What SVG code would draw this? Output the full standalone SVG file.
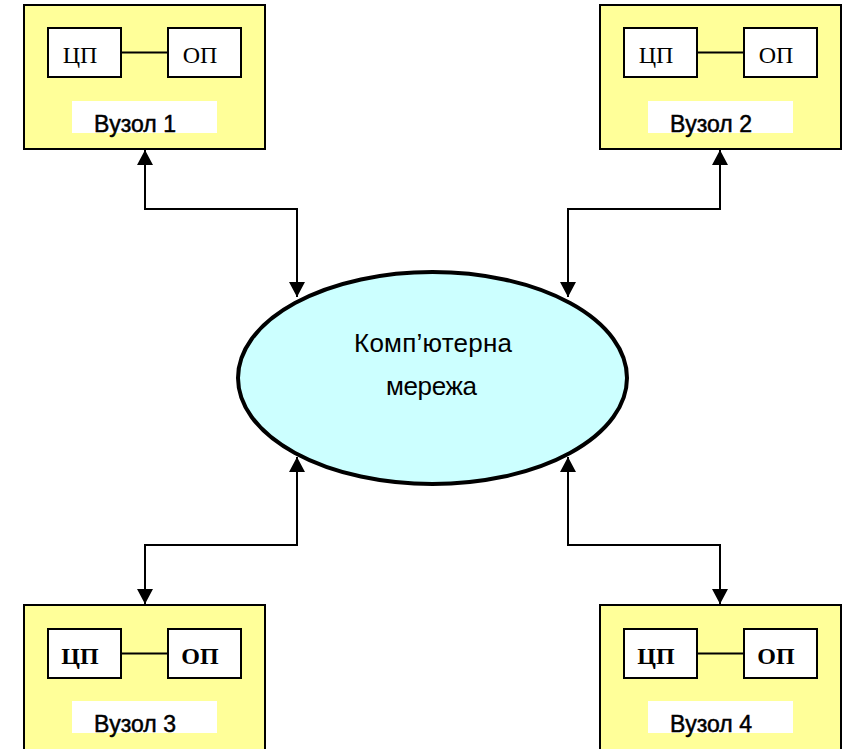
<svg xmlns="http://www.w3.org/2000/svg" width="845" height="749" viewBox="0 0 845 749">
  <style>
    .node { fill: #FFFF99; stroke: #000; stroke-width: 2; }
    .unit { fill: #FFFFFF; stroke: #000; stroke-width: 2; }
    .bus { stroke: #000; stroke-width: 2; }
    .tag { fill: #FFFFFF; stroke: none; }
    .serif { font-family: "Liberation Serif", "Times New Roman", serif; font-size: 24px; fill: #000; text-anchor: middle; }
    .bold { font-weight: bold; }
    .label { font-family: "Liberation Sans", Arial, sans-serif; font-size: 23px; fill: #000; stroke: #000; stroke-width: 0.5; text-anchor: middle; }
    .net { fill: #CCFFFF; stroke: #000; stroke-width: 4; }
    .netlabel { font-family: "Liberation Sans", Arial, sans-serif; font-size: 26px; fill: #000; text-anchor: middle; }
    .link { fill: none; stroke: #000; stroke-width: 2; marker-start: url(#arrow); marker-end: url(#arrow); }
  </style>
  <defs>
    <marker id="arrow" markerUnits="userSpaceOnUse" markerWidth="16" markerHeight="16" viewBox="0 0 16 16" refX="15" refY="8" orient="auto-start-reverse">
      <path d="M0,0 L15,8 L0,16 Z" fill="#000"/>
    </marker>
  </defs>

  <!-- Network -->
  <g id="network">
    <ellipse class="net" cx="432.5" cy="378" rx="194.5" ry="106"/>
    <text class="netlabel" x="433" y="352" textLength="158" lengthAdjust="spacing">Комп’ютерна</text>
    <text class="netlabel" x="431.5" y="395" textLength="91" lengthAdjust="spacing">мережа</text>
  </g>

  <!-- Links between nodes and network -->
  <g id="connectors">
    <path class="link" d="M145,150 V209 H297 V297"/>
    <path class="link" d="M720,150 V209 H568 V297"/>
    <path class="link" d="M297,457 V545 H145 V604"/>
    <path class="link" d="M568,457 V545 H720 V604"/>
  </g>

  <!-- Node 1 -->
  <g id="node1">
    <rect class="node" x="24" y="5" width="241" height="144"/>
    <line class="bus" x1="121" y1="52.5" x2="168" y2="52.5"/>
    <rect class="unit" x="48" y="28" width="73" height="49"/>
    <rect class="unit" x="168" y="28" width="73" height="49"/>
    <text class="serif" x="80" y="63">ЦП</text>
    <text class="serif" x="200" y="63">ОП</text>
    <rect class="tag" x="72" y="101" width="145" height="32"/>
    <text class="label" x="135" y="131.5" textLength="82" lengthAdjust="spacing">Вузол 1</text>
  </g>

  <!-- Node 2 -->
  <g id="node2">
    <rect class="node" x="600" y="5" width="241" height="144"/>
    <line class="bus" x1="697" y1="52.5" x2="744" y2="52.5"/>
    <rect class="unit" x="624" y="28" width="73" height="49"/>
    <rect class="unit" x="744" y="28" width="73" height="49"/>
    <text class="serif" x="656" y="63">ЦП</text>
    <text class="serif" x="776" y="63">ОП</text>
    <rect class="tag" x="648" y="101" width="145" height="32"/>
    <text class="label" x="711" y="131.5" textLength="82" lengthAdjust="spacing">Вузол 2</text>
  </g>

  <!-- Node 3 -->
  <g id="node3">
    <rect class="node" x="24" y="605" width="241" height="147"/>
    <line class="bus" x1="121" y1="653.5" x2="168" y2="653.5"/>
    <rect class="unit" x="48" y="629" width="73" height="49"/>
    <rect class="unit" x="168" y="629" width="73" height="49"/>
    <text class="serif bold" x="80" y="664">ЦП</text>
    <text class="serif bold" x="200" y="664">ОП</text>
    <rect class="tag" x="72" y="701" width="145" height="32"/>
    <text class="label" x="135" y="731.5" textLength="82" lengthAdjust="spacing">Вузол 3</text>
  </g>

  <!-- Node 4 -->
  <g id="node4">
    <rect class="node" x="600" y="605" width="241" height="147"/>
    <line class="bus" x1="697" y1="653.5" x2="744" y2="653.5"/>
    <rect class="unit" x="624" y="629" width="73" height="49"/>
    <rect class="unit" x="744" y="629" width="73" height="49"/>
    <text class="serif bold" x="656" y="664">ЦП</text>
    <text class="serif bold" x="776" y="664">ОП</text>
    <rect class="tag" x="648" y="701" width="145" height="32"/>
    <text class="label" x="711" y="731.5" textLength="82" lengthAdjust="spacing">Вузол 4</text>
  </g>
</svg>
